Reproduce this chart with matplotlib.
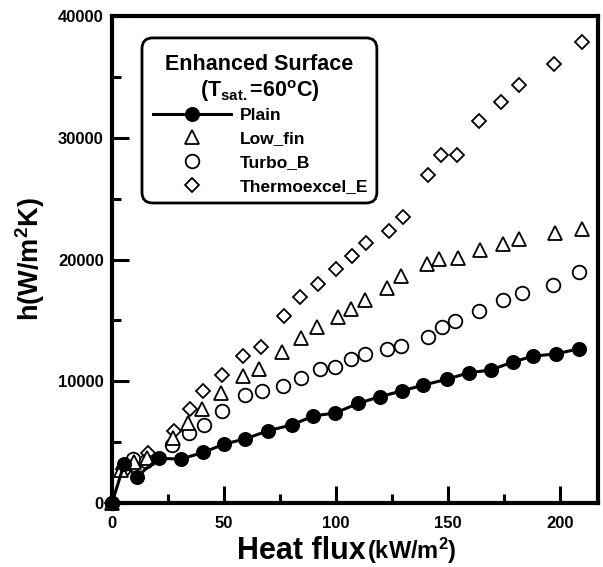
import matplotlib
matplotlib.use("Agg")
import matplotlib.pyplot as plt
from matplotlib.ticker import MultipleLocator
from matplotlib.patches import FancyBboxPatch

plt.rcParams['font.family'] = ['Liberation Sans', 'DejaVu Sans']
plt.rcParams['font.weight'] = 'bold'
plt.rcParams['mathtext.fontset'] = 'custom'
plt.rcParams['mathtext.rm'] = 'Liberation Sans:bold'
plt.rcParams['mathtext.bf'] = 'Liberation Sans:bold'
plt.rcParams['mathtext.it'] = 'Liberation Sans:bold'

# ---- data ----
plain_q = [0, 5.4, 11.0, 20.8, 30.6, 40.8, 49.9, 59.6, 69.7, 80.3, 89.9, 99.6,
           110.0, 119.6, 129.3, 138.7, 149.4, 159.4, 169.1, 178.9, 188.1, 198.2, 208.5]
plain_h = [0, 3200, 2160, 3670, 3610, 4150, 4830, 5270, 5940, 6410, 7150, 7390,
           8190, 8730, 9200, 9670, 10160, 10700, 10920, 11580, 12070, 12240, 12670]

lowfin_q = [0, 4.0, 10.0, 15.5, 27.4, 34.1, 40.4, 48.8, 58.5, 65.8, 76.0, 84.4, 91.7,
            100.9, 106.9, 112.8, 122.6, 129.0, 140.5, 145.8, 154.5, 164.4, 174.4,
            181.7, 197.8, 209.9]
lowfin_h = [0, 2700, 3400, 3700, 5310, 6570, 7720, 9010, 10430, 11000, 12430, 13530,
            14480, 15240, 15960, 16670, 17630, 18640, 19600, 20010, 20120, 20780,
            21300, 21680, 22170, 22500]

turbo_q = [0, 5.0, 9.5, 15.0, 26.7, 34.6, 41.1, 48.9, 59.2, 67.1, 76.2, 84.2, 92.9,
           99.6, 106.6, 112.9, 122.6, 129.0, 141.2, 147.2, 153.1, 163.9, 174.4,
           182.9, 197.0, 208.5]
turbo_h = [0, 2800, 3600, 3450, 4760, 5720, 6400, 7520, 8870, 9240, 9580, 10270,
           10980, 11190, 11800, 12240, 12620, 12890, 13660, 14450, 14950, 15770,
           16670, 17270, 17940, 18950]

thermo_q = [0, 5.0, 10.0, 15.9, 27.7, 34.8, 40.6, 48.9, 58.6, 66.5, 76.9, 83.9,
            92.1, 100.1, 107.1, 113.2, 123.8, 129.8, 141.2, 146.7, 153.9, 164.0,
            173.9, 181.8, 197.4, 209.9]
thermo_h = [0, 2800, 3530, 4130, 5910, 7720, 9170, 10540, 12110, 12840, 15380,
            16890, 17990, 19220, 20260, 21390, 22340, 23490, 26900, 28580, 28580,
            31400, 32930, 34330, 36070, 37860]

labels = ['Plain', 'Low_fin', 'Turbo_B', 'Thermoexcel_E']
x_major = [0, 50, 100, 150, 200]
y_major = [0, 10000, 20000, 30000, 40000]

# ---- figure ----
fig = plt.figure(figsize=(6.03, 5.67), dpi=100)
ax = fig.add_axes([112/603, 1-503/567, (598-112)/603, (503-16)/567])

ms = 9.8
mew = 1.3
ax.plot(plain_q, plain_h, '-o', color='black', lw=2.2, ms=ms, mfc='black',
        mec='black', label=labels[0], clip_on=False, zorder=5)
ax.plot(lowfin_q, lowfin_h, '^', ls='none', ms=ms, mfc='white', mec='black',
        mew=mew, label=labels[1], clip_on=False, zorder=4)
ax.plot(turbo_q, turbo_h, 'o', ls='none', ms=ms, mfc='white', mec='black',
        mew=mew, label=labels[2], clip_on=False, zorder=3)
ax.plot(thermo_q, thermo_h, 'D', ls='none', ms=ms*0.75, mfc='white', mec='black',
        mew=mew, label=labels[3], clip_on=False, zorder=2)

ax.set_xlim(0, 217)
ax.set_ylim(0, 40000)
ax.set_xticks(x_major)
ax.set_yticks(y_major)
ax.xaxis.set_minor_locator(MultipleLocator(25))
ax.yaxis.set_minor_locator(MultipleLocator(5000))
ax.tick_params(which='both', direction='in', top=False, right=False, width=2.2,
               labelsize=12)
ax.tick_params(which='major', length=12)
ax.tick_params(which='minor', length=6.5)
ax.tick_params(axis='x', pad=9)
ax.tick_params(axis='y', pad=6)
for s in ax.spines.values():
    s.set_linewidth(3)

ax.set_ylabel('h(W/m$^{2}$K)', fontsize=19.5, fontweight='bold', labelpad=8)
fig.text(366/603, 1-559/567, 'Heat flux', fontsize=22, fontweight='bold',
         ha='right', va='baseline')
fig.text(367/603, 1-559/567, '(kW/m$^{2}$)', fontsize=17, fontweight='bold',
         ha='left', va='baseline')

# legend frame + title drawn separately for exact placement
frame = FancyBboxPatch((0.0617, 0.616), 0.545 - 0.0617, 0.955 - 0.616,
                       boxstyle='round,pad=0,rounding_size=0.022',
                       transform=ax.transAxes, facecolor='white',
                       edgecolor='black', linewidth=2, zorder=6)
ax.add_patch(frame)
ax.text(0.3035, 0.901, 'Enhanced Surface', transform=ax.transAxes, ha='center',
        va='center', fontsize=15.5, fontweight='bold', zorder=7)
ax.text(0.3035, 0.845, '(T$_{\\mathrm{sat.}}$=60$^{\\mathrm{o}}$C)',
        transform=ax.transAxes, ha='center', va='center', fontsize=15.5,
        fontweight='bold', zorder=7)

leg = ax.legend(loc='upper left', bbox_to_anchor=(0.0844, 0.812), borderaxespad=0,
                prop={'size': 12.5, 'weight': 'bold'}, frameon=False,
                handlelength=4.5, handletextpad=0.5, labelspacing=0.5,
                borderpad=0)
leg.set_zorder(8)

fig.savefig('out.png', dpi=100)
